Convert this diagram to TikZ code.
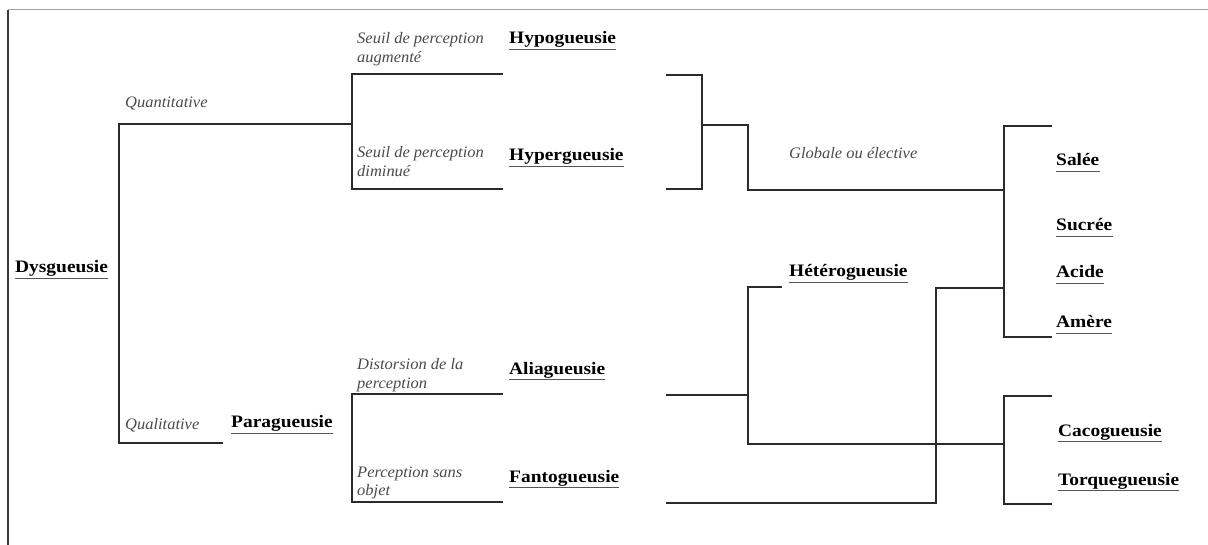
\documentclass[tikz,border=0pt]{standalone}
\usepackage{fontspec}
\setmainfont{Liberation Serif}
\newfontfamily\lblfont[FakeStretch=1.11]{Liberation Serif}
\newfontfamily\notefont[FakeStretch=1.03]{Liberation Serif}
\definecolor{ink}{HTML}{2B2B2B}
\definecolor{notec}{HTML}{4A4A4A}
\definecolor{ulc}{HTML}{555555}
\definecolor{frametop}{HTML}{A0A0A0}
\definecolor{frameleft}{HTML}{3A3A3A}
\newcommand{\twolines}[2]{\begin{tabular}[t]{@{}l@{}}#1\\#2\end{tabular}}
\begin{document}
\begin{tikzpicture}[x=1pt,y=-1pt,
  term/.style={inner sep=0pt, anchor=base west, text=black,
    font=\lblfont\bfseries\fontsize{17.5}{20}\selectfont},
  note/.style={inner sep=0pt, anchor=base west, text=notec,
    font=\notefont\itshape\fontsize{16}{18.5}\selectfont},
  link/.style={draw=ink, line width=1.2pt, line join=miter},
  ul/.style={draw=ulc, line width=0.9pt}]
\useasboundingbox (0,0) rectangle (1208,545);
% frame
\coordinate (fTL) at (8,10);
\coordinate (fTR) at (1208,10);
\coordinate (fBL) at (8,545);
\draw[frametop, line width=1pt] (fTL) -- (fTR);
\draw[frameleft, line width=1.4pt] (fTL) -- (fBL);

% labels
\node[term] (dys) at (15,273) {Dysgueusie};
\node[note] (quant) at (125,108) {Quantitative};
\node[note] (qual) at (125,429) {Qualitative};
\node[term] (para) at (231,428) {Paragueusie};
\node[note] (sa) at (357,44) {\twolines{Seuil de perception}{augmenté}};
\node[term] (hypo) at (509,44) {Hypogueusie};
\node[note] (sd) at (357,158) {\twolines{Seuil de perception}{diminué}};
\node[term] (hyper) at (509,161) {Hypergueusie};
\node[note] (dist) at (357,370) {\twolines{Distorsion de la}{perception}};
\node[term] (alia) at (509,374) {Aliagueusie};
\node[note] (pso) at (357,477) {\twolines{Perception sans}{objet}};
\node[term] (fanto) at (509,482) {Fantogueusie};
\node[note] (glob) at (789,159) {Globale ou élective};
\node[term] (hetero) at (789,277) {Hétérogueusie};
\node[term] (salee) at (1056,166) {Salée};
\node[term] (sucree) at (1056,231) {Sucrée};
\node[term] (acide) at (1056,278) {Acide};
\node[term] (amere) at (1056,328) {Amère};
\node[term] (caco) at (1058,436) {Cacogueusie};
\node[term] (torque) at (1058,485) {Torquegueusie};

\foreach \n in {dys,para,hypo,hyper,alia,fanto,hetero,salee,sucree,acide,amere,caco,torque}
  \draw[ul] ([yshift=-5.5pt]\n.base west) -- ([yshift=-5.5pt]\n.base east);

% bracket points
\coordinate (q1) at (119,124);  \coordinate (q2) at (351,124);
\coordinate (q3) at (119,443);  \coordinate (q4) at (223,443);
\coordinate (u1) at (503,74);   \coordinate (u2) at (352,74);
\coordinate (u3) at (352,189);  \coordinate (u4) at (503,189);
\coordinate (r1) at (666,75);   \coordinate (r2) at (702,75);
\coordinate (r3) at (702,189);  \coordinate (r4) at (666,189);
\coordinate (r5) at (702,125);  \coordinate (r6) at (748,125);
\coordinate (r7) at (748,190);  \coordinate (r8) at (1004,190);
\coordinate (t1) at (1052,126); \coordinate (t2) at (1004,126);
\coordinate (t3) at (1004,337); \coordinate (t4) at (1052,337);
\coordinate (l1) at (503,394);  \coordinate (l2) at (352,394);
\coordinate (l3) at (352,502);  \coordinate (l4) at (503,502);
\coordinate (a1) at (666,395);  \coordinate (a2) at (748,395);
\coordinate (h1) at (782,287);  \coordinate (h2) at (748,287);
\coordinate (h3) at (748,444);  \coordinate (h4) at (1004,444);
\coordinate (f1) at (666,503);  \coordinate (f2) at (936,503);
\coordinate (f3) at (936,288);  \coordinate (f4) at (1004,288);
\coordinate (c1) at (1052,396); \coordinate (c2) at (1004,396);
\coordinate (c3) at (1004,504); \coordinate (c4) at (1052,504);

% connectors
\draw[link] (q2) -- (q1) -- (q3) -- (q4);
\draw[link] (u1) -- (u2) -- (u3) -- (u4);
\draw[link] (r1) -- (r2) -- (r3) -- (r4);
\draw[link] (r5) -- (r6) -- (r7) -- (r8);
\draw[link] (t1) -- (t2) -- (t3) -- (t4);
\draw[link] (l1) -- (l2) -- (l3) -- (l4);
\draw[link] (a1) -- (a2);
\draw[link] (h1) -- (h2) -- (h3) -- (h4);
\draw[link] (f1) -- (f2) -- (f3) -- (f4);
\draw[link] (c1) -- (c2) -- (c3) -- (c4);
\end{tikzpicture}
\end{document}
